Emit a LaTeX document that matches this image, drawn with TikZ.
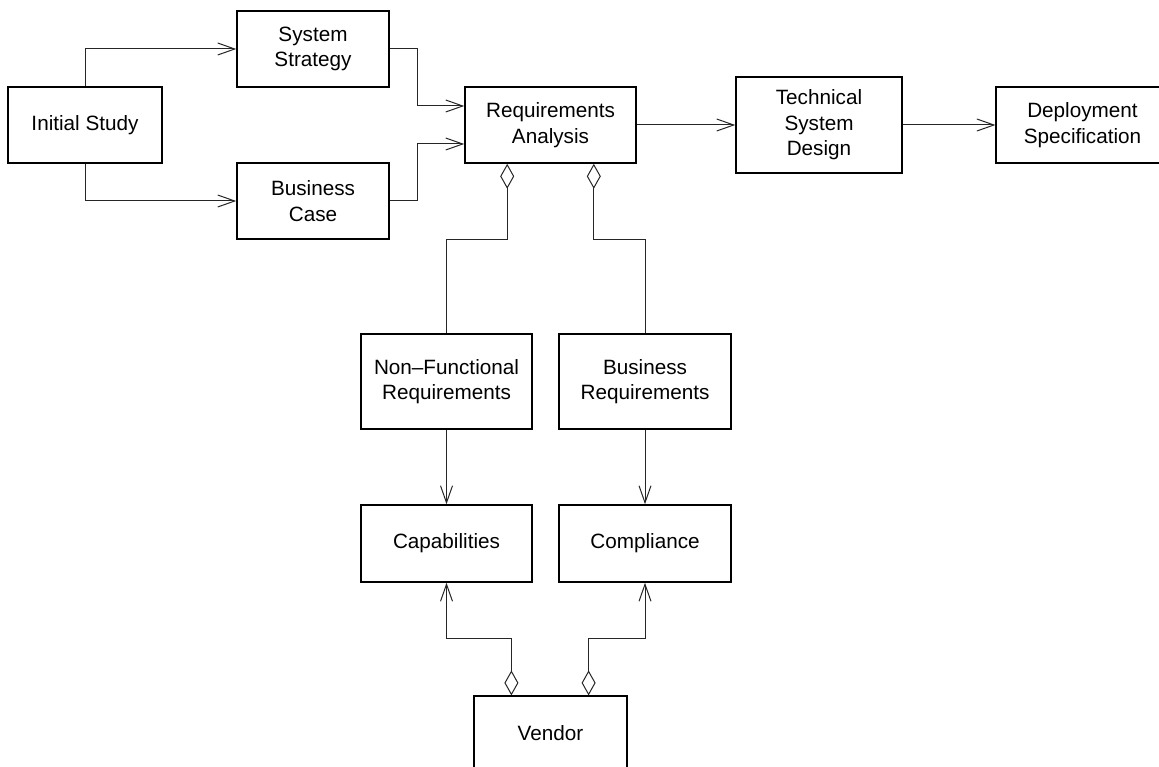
\documentclass[tikz,border=0pt]{standalone}
\usepackage{fontspec}
\setmainfont{Liberation Sans}
\usetikzlibrary{arrows.meta}
\begin{document}
\begin{tikzpicture}[x=1pt,y=-1pt,
  box/.style={draw=black, line width=1.6pt, fill=white, align=center,
    inner sep=0pt, font=\fontsize{20.7}{25.5}\selectfont},
  thinbox/.style={box, line width=1.2pt},
  conn/.style={line width=1pt, draw=black!85},
  barb/.style={-{Straight Barb[length=17pt,width=12pt]}},
  agg/.style={{Diamond[open,length=25pt,width=14pt]}-},
  aggbarb/.style={{Diamond[open,length=25pt,width=14pt]}-{Straight Barb[length=17pt,width=12pt]}}]
  % page frame
  \useasboundingbox (0,0) rectangle (1159,767);
  \clip (0,0) rectangle (1159,767);
  \fill[white] (0,0) rectangle (1159,767);

  % boxes
  \node[box, minimum width=154pt, minimum height=76pt] (is) at (85,125) {Initial Study};
  \node[box, minimum width=152pt, minimum height=76pt] (ss) at (313,49) {System\\Strategy};
  \node[box, minimum width=152pt, minimum height=76pt] (bc) at (313,201) {Business\\Case};
  \node[box, minimum width=171pt, minimum height=76pt] (ra) at (550.5,125) {Requirements\\Analysis};
  \node[box, minimum width=166pt, minimum height=96pt] (tsd) at (819,125) {Technical\\System\\Design};
  \node[thinbox, minimum width=173pt, minimum height=76pt] (ds) at (1082.5,125) {Deployment\\Specification};
  \node[box, minimum width=171pt, minimum height=95pt] (nfr) at (446.5,381.5) {Non--Functional\\Requirements};
  \node[box, minimum width=172pt, minimum height=95pt] (br) at (645,381.5) {Business\\Requirements};
  \node[box, minimum width=171pt, minimum height=77pt] (cap) at (446.5,543.5) {Capabilities};
  \node[box, minimum width=172pt, minimum height=77pt] (comp) at (645,543.5) {Compliance};
  \node[thinbox, minimum width=153pt, minimum height=74pt] (ven) at (550.5,733) {Vendor};

  % flow along the top row
  \draw[conn,barb] (is.north) |- (ss.west);
  \draw[conn,barb] (is.south) |- (bc.west);
  \draw[conn,barb] (ss.east) -- ++(28,0) |- ([yshift=19pt]ra.west);
  \draw[conn,barb] (bc.east) -- ++(28,0) |- ([yshift=-19pt]ra.west);
  \draw[conn,barb] (ra.east) -- (tsd.west);
  \draw[conn,barb] (tsd.east) -- (ds.west);

  % requirements aggregated by the analysis
  \draw[conn,agg] ([xshift=43pt]ra.south west) -- ++(0,76) -| (nfr.north);
  \draw[conn,agg] ([xshift=-43pt]ra.south east) -- ++(0,76) -| (br.north);
  \draw[conn,barb] (nfr.south) -- (cap.north);
  \draw[conn,barb] (br.south) -- (comp.north);

  % vendor links
  \draw[conn,aggbarb] ([xshift=38pt]ven.north west) -- ++(0,-57) -| (cap.south);
  \draw[conn,aggbarb] ([xshift=-39pt]ven.north east) -- ++(0,-57) -| (comp.south);
\end{tikzpicture}
\end{document}
